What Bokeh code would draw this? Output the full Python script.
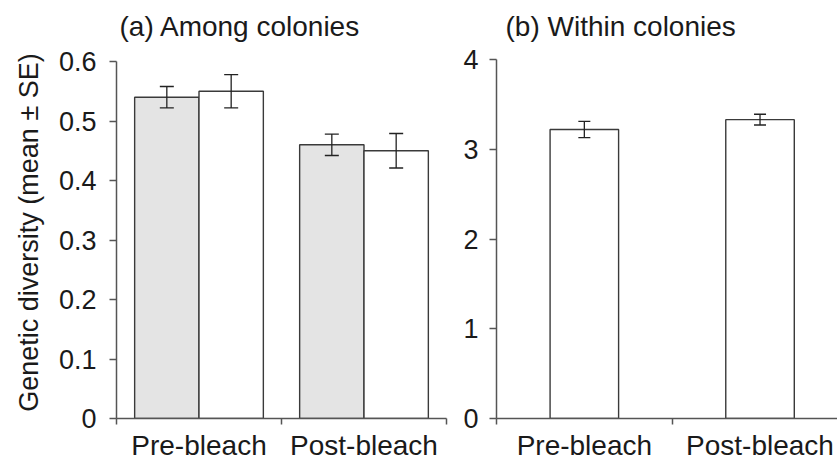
from bokeh.plotting import figure
from bokeh.models import Range1d, FixedTicker, Whisker, ColumnDataSource, TeeHead
from bokeh.layouts import row
from bokeh.embed import file_html
from bokeh.resources import INLINE

# ---------------- data ----------------
categories = ["Pre-bleach", "Post-bleach"]

# (a) Among colonies: two series per category (grey and white bars)
among_grey_mean = [0.54, 0.46]
among_grey_se = [0.018, 0.018]
among_white_mean = [0.55, 0.45]
among_white_se = [0.028, 0.029]

# (b) Within colonies
within_mean = [3.22, 3.33]
within_se = [0.09, 0.06]

a_ticks = [0, 0.1, 0.2, 0.3, 0.4, 0.5, 0.6]
a_tick_labels = ["0", "0.1", "0.2", "0.3", "0.4", "0.5", "0.6"]
b_ticks = [0, 1, 2, 3, 4]
b_tick_labels = ["0", "1", "2", "3", "4"]

title_a = "(a) Among colonies"
title_b = "(b) Within colonies"
y_label = "Genetic diversity (mean \u00b1 SE)"

# ---------------- style ----------------
FONT = "Liberation Sans"
TXT = "#1a1a1a"
AX = "#555555"
EDGE = "#3a3a3a"
GREY = "#e4e4e4"
BAR_W = 0.39
DODGE = 0.195

centers = [i + 0.5 for i in range(len(categories))]
bounds = [float(i) for i in range(len(categories) + 1)]

H = 464
FRAME_TOP = 46          # top of plotting frame (px)
FRAME_BOTTOM = 418      # y = 0 line (px)
AXIS_TOP_A = 61         # where y = 0.6 sits
AXIS_TOP_B = 59         # where y = 4 sits


def style(p, yticks, ylabels, label_standoff):
    p.xgrid.grid_line_color = None
    p.ygrid.grid_line_color = None
    p.outline_line_color = None
    p.background_fill_color = "white"
    p.border_fill_color = "white"
    p.title.text_font = FONT
    p.title.text_font_size = "28px"
    p.title.text_font_style = "normal"
    p.title.text_color = TXT
    p.title.align = "left"
    p.title.standoff = 10

    xa = p.xaxis[0]
    xa.ticker = FixedTicker(ticks=centers, minor_ticks=bounds)
    xa.major_label_overrides = {c: n for c, n in zip(centers, categories)}
    xa.major_tick_line_color = None
    xa.major_tick_out = 0
    xa.major_tick_in = 0
    xa.minor_tick_line_color = AX
    xa.minor_tick_line_width = 1.5
    xa.minor_tick_out = 6
    xa.minor_tick_in = 0
    xa.axis_line_color = AX
    xa.axis_line_width = 1.5
    xa.major_label_text_font = FONT
    xa.major_label_text_font_size = "28px"
    xa.major_label_text_color = TXT
    xa.major_label_standoff = 5

    ya = p.yaxis[0]
    ya.ticker = FixedTicker(ticks=yticks)
    ya.bounds = (yticks[0], yticks[-1])
    ya.major_label_overrides = {t: l for t, l in zip(yticks, ylabels)}
    ya.major_tick_line_color = AX
    ya.major_tick_line_width = 1.5
    ya.major_tick_out = 7
    ya.major_tick_in = 0
    ya.minor_tick_line_color = None
    ya.axis_line_color = AX
    ya.axis_line_width = 1.5
    ya.major_label_text_font = FONT
    ya.major_label_text_font_size = "27px"
    ya.major_label_text_color = TXT
    ya.major_label_standoff = label_standoff
    ya.axis_label_text_font = FONT
    ya.axis_label_text_font_size = "27px"
    ya.axis_label_text_font_style = "normal"
    ya.axis_label_text_color = TXT
    ya.axis_label_standoff = 12


def add_err(p, xs, means, ses, tee):
    src = ColumnDataSource(dict(
        x=xs,
        upper=[m + s for m, s in zip(means, ses)],
        lower=[m - s for m, s in zip(means, ses)],
    ))
    w = Whisker(base="x", upper="upper", lower="lower", source=src,
                line_color="#222222", line_width=1.3, level="overlay",
                upper_head=TeeHead(size=tee, line_color="#222222", line_width=1.3),
                lower_head=TeeHead(size=tee, line_color="#222222", line_width=1.3))
    p.add_layout(w)


def y_end(top_val, axis_top_px):
    # extend the range so that top_val sits at axis_top_px while the frame starts higher
    return top_val * (FRAME_BOTTOM - FRAME_TOP) / (FRAME_BOTTOM - axis_top_px)


# ---------------- panel (a) ----------------
pa = figure(width=450, height=H, x_range=Range1d(0, len(categories)),
            y_range=Range1d(0, y_end(a_ticks[-1], AXIS_TOP_A)), title=title_a,
            output_backend="svg", toolbar_location=None,
            min_border_left=116, min_border_right=4,
            min_border_top=FRAME_TOP, min_border_bottom=H - FRAME_BOTTOM)
pa.title.offset = 3

xg = [c - DODGE for c in centers]
xw = [c + DODGE for c in centers]
pa.vbar(x=xg, top=among_grey_mean, width=BAR_W, bottom=0,
        fill_color=GREY, line_color=EDGE, line_width=1.4)
pa.vbar(x=xw, top=among_white_mean, width=BAR_W, bottom=0,
        fill_color="white", line_color=EDGE, line_width=1.4)
add_err(pa, xg, among_grey_mean, among_grey_se, 14)
add_err(pa, xw, among_white_mean, among_white_se, 14)
pa.yaxis.axis_label = y_label
style(pa, a_ticks, a_tick_labels, 13)

# ---------------- panel (b) ----------------
pb = figure(width=387, height=H, x_range=Range1d(0, 1.941),
            y_range=Range1d(0, y_end(b_ticks[-1], AXIS_TOP_B)), title=title_b,
            output_backend="svg", toolbar_location=None,
            min_border_left=46, min_border_right=0,
            min_border_top=FRAME_TOP, min_border_bottom=H - FRAME_BOTTOM)
pb.title.offset = 9
pb.vbar(x=centers, top=within_mean, width=BAR_W, bottom=0,
        fill_color="white", line_color=EDGE, line_width=1.4)
add_err(pb, centers, within_mean, within_se, 12)
style(pb, b_ticks, b_tick_labels, 11)

layout = row(pa, pb)
open("out.html", "w").write(file_html(layout, INLINE))
